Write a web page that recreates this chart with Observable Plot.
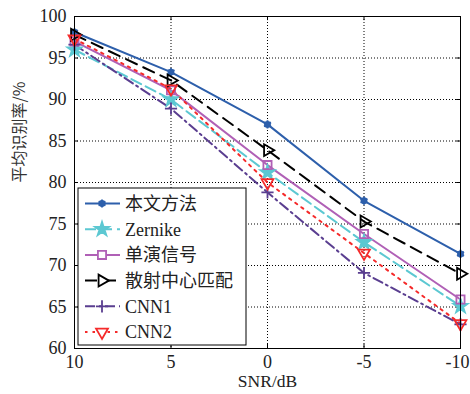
<!DOCTYPE html>
<html>
<head>
<meta charset="utf-8">
<script src="https://cdn.jsdelivr.net/npm/d3@7"></script>
<script src="https://cdn.jsdelivr.net/npm/@observablehq/plot@0.6"></script>
<style>
  html, body { margin: 0; padding: 0; background: white; }
  #chart { width: 470px; height: 394px; }
</style>
</head>
<body>
<div id="chart"></div>
<script>
const snr = [10, 5, 0, -5, -10];
const yTicks = [60, 65, 70, 75, 80, 85, 90, 95, 100];
const seriesNames = ["本文方法", "Zernike", "单演信号", "散射中心匹配", "CNN1", "CNN2"];
const proposed  = [98.1, 93.3, 87.0, 77.8, 71.4];
const zernike   = [96.0, 90.0, 81.2, 72.8, 65.1];
const monogenic = [97.0, 91.1, 82.1, 73.8, 65.9];
const scatter   = [97.8, 92.3, 83.9, 75.3, 69.0];
const cnn1      = [96.6, 88.9, 78.8, 69.1, 62.9];
const cnn2      = [97.3, 91.3, 80.0, 71.5, 63.0];

const styles = [
  {color: "#2d5fab", dash: null,        symbol: "asterisk", r: 3.8, rotate: 0,   dot: true},
  {color: "#5cc8d2", dash: "11,5",      symbol: "star",     r: 4.4, rotate: 0},
  {color: "#b060b6", dash: null,        symbol: "square",   r: 4.6, rotate: 0},
  {color: "#000000", dash: "12,7",      symbol: "triangle", r: 4.4, rotate: 90},
  {color: "#5a3e90", dash: "10,4,2,4",  symbol: "plus",     r: 4.0, rotate: 0},
  {color: "#f52a2a", dash: "2.5,5",     symbol: "triangle", r: 4.4, rotate: 180}
];
const allValues = [proposed, zernike, monogenic, scatter, cnn1, cnn2];
const table = seriesNames.map((name, i) => snr.map((s, j) => ({name, snr: s, v: allValues[i][j]})));

const marks = [
  Plot.ruleX(snr, {x: d => d, stroke: "#000", strokeDasharray: "1,2", strokeWidth: 1}),
  Plot.ruleY(yTicks, {y: d => d, stroke: "#000", strokeDasharray: "1,2", strokeWidth: 1}),
  // inward tick marks (MATLAB style)
  Plot.ruleX(snr, {x: d => d, y1: 60, y2: 60.5, stroke: "#000"}),
  Plot.ruleX(snr, {x: d => d, y1: 100, y2: 99.5, stroke: "#000"}),
  Plot.ruleY(yTicks, {y: d => d, x1: 10, x2: 9.8, stroke: "#000"}),
  Plot.ruleY(yTicks, {y: d => d, x1: -10, x2: -9.8, stroke: "#000"}),
  Plot.axisX(snr.slice(0, 4), {tickSize: 0, tickPadding: 7, tickFormat: d => String(d), label: null, fontSize: 18}),
  Plot.axisX(snr.slice(4), {tickSize: 0, tickPadding: 7, tickFormat: d => String(d), label: null, dx: -3, fontSize: 18}),
  Plot.axisY({ticks: yTicks, tickSize: 0, tickPadding: 8, tickFormat: d => String(d), label: null, fontSize: 18}),
];
table.forEach((data, i) => {
  const st = styles[i];
  marks.push(Plot.line(data, {x: "snr", y: "v", stroke: st.color, strokeWidth: 2, strokeDasharray: st.dash || undefined}));
});
table.forEach((data, i) => {
  const st = styles[i];
  if (st.dot) {
    marks.push(Plot.dot(data, {x: "snr", y: "v", r: 3.4, fill: st.color, symbol: "circle"}));
  }
  marks.push(Plot.dot(data, {x: "snr", y: "v", r: st.r, symbol: st.symbol, rotate: st.rotate,
    stroke: st.color, strokeWidth: 1.8, fill: st.symbol === "star" ? st.color : "none"}));
});
marks.push(Plot.frame({stroke: "#000", strokeWidth: 1}));
marks.push(Plot.text(["SNR/dB"], {frameAnchor: "bottom", text: d => d, dy: 38.5, fontSize: 17.5,
  fontFamily: "'Liberation Serif', serif", fill: "#222"}));
marks.push(Plot.text(["平均识别率/%"], {frameAnchor: "left", text: d => d, dx: -55, rotate: -90, fontSize: 16,
  fontFamily: "'Noto Sans CJK SC', sans-serif", fill: "#333"}));

const chart = Plot.plot({
  width: 470,
  height: 394,
  marginLeft: 74,
  marginRight: 10,
  marginTop: 16,
  marginBottom: 46,
  style: {fontFamily: "'Liberation Serif', 'Times New Roman', serif", fontSize: "18px", background: "white", color: "#222"},
  x: {domain: [10, -10]},
  y: {domain: [60, 100]},
  marks
});
document.getElementById("chart").appendChild(chart);

// legend inside the plot frame (bottom-left)
const svg = d3.select(chart.tagName === "svg" ? chart : chart.querySelector("svg"));
const lg = svg.append("g").attr("class", "legend").attr("text-anchor", "start");
const bx = 78, by = 188, bw = 168, bh = 157, rowH = 25.7, firstY = 203.5;
lg.append("rect").attr("x", bx).attr("y", by).attr("width", bw).attr("height", bh)
  .attr("fill", "white").attr("stroke", "#000").attr("stroke-width", 1);
const symMap = {asterisk: d3.symbolAsterisk, star: d3.symbolStar, square: d3.symbolSquare,
  triangle: d3.symbolTriangle, plus: d3.symbolPlus, circle: d3.symbolCircle};
seriesNames.forEach((name, i) => {
  const st = styles[i];
  const y = firstY + i * rowH;
  const g = lg.append("g");
  g.append("line").attr("x1", 85).attr("x2", 120).attr("y1", y).attr("y2", y)
    .attr("stroke", st.color).attr("stroke-width", 2)
    .attr("stroke-dasharray", st.dash || null);
  if (st.dot) {
    g.append("circle").attr("cx", 102).attr("cy", y).attr("r", 3.4).attr("fill", st.color);
  }
  g.append("path").attr("d", d3.symbol(symMap[st.symbol], Math.PI * st.r * st.r)())
    .attr("transform", `translate(102,${y}) rotate(${st.rotate})`)
    .attr("stroke", st.color).attr("stroke-width", 1.8)
    .attr("fill", st.symbol === "star" ? st.color : (st.symbol === "asterisk" || st.symbol === "plus" ? "none" : "white"));
  g.append("text").attr("x", 125).attr("y", y).attr("dy", "0.36em")
    .attr("text-anchor", "start")
    .attr("font-family", "'Liberation Serif', 'Noto Sans CJK SC', serif")
    .attr("font-size", 18).attr("fill", "#222").text(name);
});
</script>
</body>
</html>
